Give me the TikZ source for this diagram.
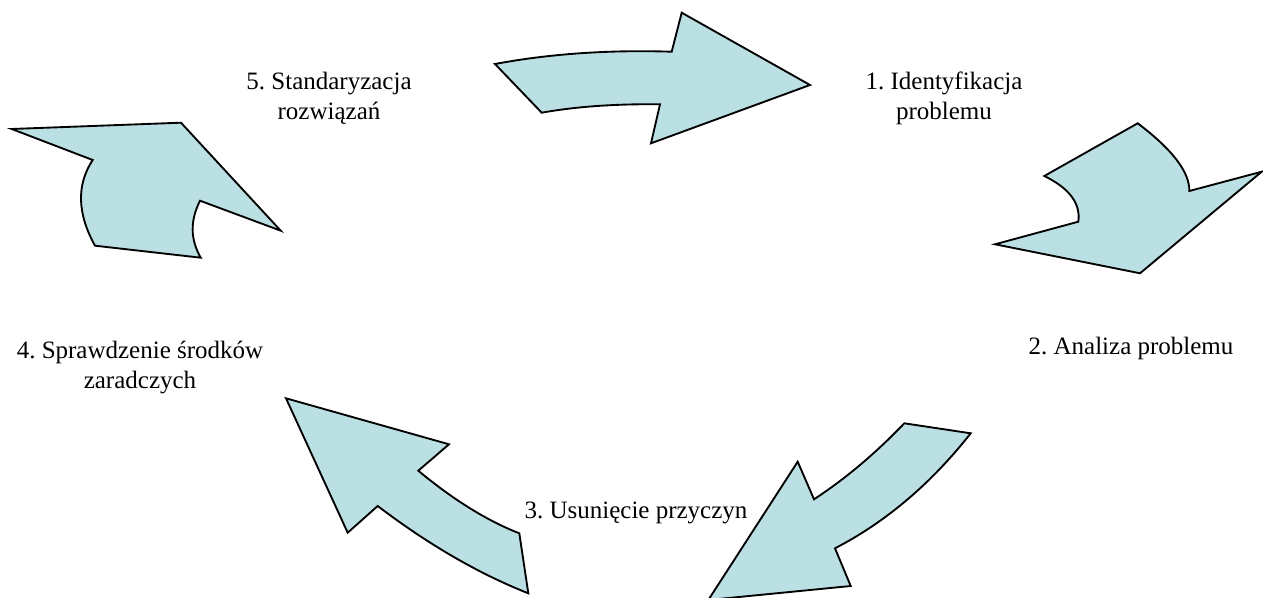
\documentclass[tikz,border=0pt]{standalone}
\usepackage{fontspec}
\setmainfont{Liberation Serif}
\definecolor{arrowfill}{RGB}{187,224,227}
\frenchspacing
\begin{document}
\begin{tikzpicture}[x=0.75pt,y=-0.75pt]
  \tikzstyle{bigarrow} = [
    draw=black,
    fill=arrowfill,
    line width=1.4pt,
    line join=miter
  ]
  \tikzstyle{steplabel} = [
    draw=none,
    anchor=base,
    align=center,
    inner sep=0pt,
    font=\fontsize{18.75}{22.5}\selectfont
  ]

  \useasboundingbox (0,0) rectangle (1263,598);
  \clip (0,0) rectangle (1263,598);

  % arrow 5 -> 1
  \draw[bigarrow] (495,64) .. controls (549.5,53.8) and (608.4,49.7) .. (671.7,51.7)
    -- (681.7,12.7) -- (810,85) -- (651,143.3) -- (660,104.3)
    .. controls (615,103.8) and (575.6,106.6) .. (541.7,112.7) -- cycle;

  % arrow 1 -> 2
  \draw[bigarrow] (1137.7,123.3) .. controls (1172.5,149.6) and (1189.7,172.2) .. (1189.3,191)
    -- (1261.7,171.7) -- (1140,273.3) -- (995,244.3) -- (1078.3,221.7)
    .. controls (1080.8,203.6) and (1069.5,188.3) .. (1044.3,176) -- cycle;

  % arrow 2 -> 3
  \draw[bigarrow] (904.3,423.3) -- (970.7,433.3)
    .. controls (930.9,483.8) and (885.7,522.1) .. (835,548.3)
    -- (850.7,586) -- (708.3,600) -- (797.7,461.7) -- (814,499.3)
    .. controls (845.2,478.9) and (875.3,453.6) .. cycle;

  % arrow 3 -> 4
  \draw[bigarrow] (286,398.3) -- (449,444.3) -- (418.3,470.7)
    .. controls (453.6,500) and (487.2,520.8) .. (519.3,533.3)
    -- (528.3,593.3) .. controls (478.5,573.6) and (428.3,544.5) .. (377.7,506)
    -- (347.7,532.7) -- cycle;

  % arrow 4 -> 5
  \draw[bigarrow] (11.7,129) -- (181,122.7) -- (280.7,230.7) -- (200,200.7)
    .. controls (190,220.8) and (190.2,239.1) .. (200.7,257.7)
    -- (95,245.7) .. controls (77.1,213.4) and (76.4,184.8) .. (92.7,160) -- cycle;

  % labels
  \node[steplabel] (stepOne) at (944,120) {1. Identyfikacja\\problemu};
  \node[steplabel] (stepTwo) at (1131,354) {2. Analiza problemu};
  \node[steplabel] (stepThree) at (636,518) {3. Usunięcie przyczyn};
  \node[steplabel] (stepFour) at (140,388) {4. Sprawdzenie środków\\zaradczych};
  \node[steplabel] (stepFive) at (329,120) {5. Standaryzacja\\rozwiązań};
\end{tikzpicture}
\end{document}
